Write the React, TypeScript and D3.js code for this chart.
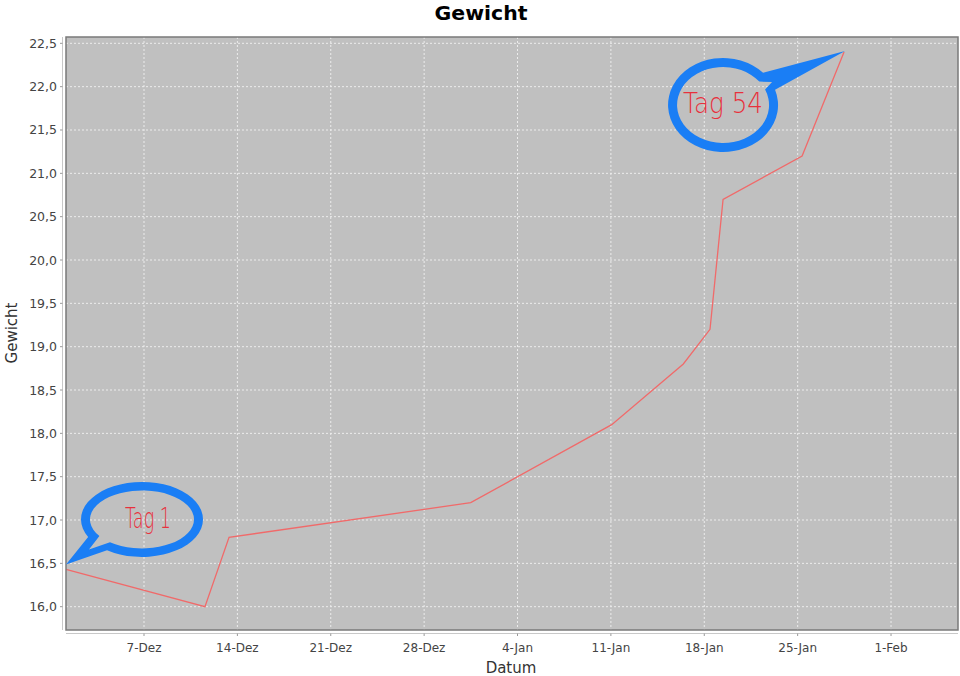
import React from "react";
import * as d3 from "d3";

// ---- data ----
const dates = [
  "2012-12-01T03:40",
  "2012-12-11T13:40",
  "2012-12-13T09:00",
  "2012-12-31T11:50",
  "2013-01-11T01:30",
  "2013-01-16T10:20",
  "2013-01-18T10:20",
  "2013-01-19T09:50",
  "2013-01-25T08:00",
  "2013-01-28T11:30",
];
const weights = [16.43, 16.0, 16.8, 17.2, 18.1, 18.8, 19.2, 20.7, 21.2, 22.4];

const xTickDates = [
  "2012-12-07",
  "2012-12-14",
  "2012-12-21",
  "2012-12-28",
  "2013-01-04",
  "2013-01-11",
  "2013-01-18",
  "2013-01-25",
  "2013-02-01",
];
const monthNames = ["Jan", "Feb", "Mär", "Apr", "Mai", "Jun", "Jul", "Aug", "Sep", "Okt", "Nov", "Dez"];
const yTicks = [16.0, 16.5, 17.0, 17.5, 18.0, 18.5, 19.0, 19.5, 20.0, 20.5, 21.0, 21.5, 22.0, 22.5];
const xDomain = ["2012-12-01T03:40", "2013-02-06T00:30"];
const yDomain = [15.731, 22.573];
const annotationLabels = ["Tag 1", "Tag 54"];

const title = "Gewicht";
const xLabel = "Datum";
const yLabel = "Gewicht";

// ---- layout ----
const W = 960;
const H = 676;
const L = 66, R = 958, T = 37, B = 630;

const parseT = d3.timeParse("%Y-%m-%dT%H:%M");
const parseD = d3.timeParse("%Y-%m-%d");

const BLUE = "#1a7ef5";
const RED = "#e8303c";

function bubblePath(
  cx: number, cy: number,
  Rx: number, Ry: number, a1: number, a2: number, tip: [number, number],
  rx: number, ry: number, b1: number, b2: number, tip2: [number, number]
) {
  const rad = (a: number) => (a * Math.PI) / 180;
  const pt = (ex: number, ey: number, a: number) =>
    [cx + ex * Math.cos(rad(a)), cy + ey * Math.sin(rad(a))] as [number, number];
  const o1 = pt(Rx, Ry, a1), o2 = pt(Rx, Ry, a2);
  const i1 = pt(rx, ry, b1), i2 = pt(rx, ry, b2);
  return (
    `M${o1[0]},${o1[1]} A${Rx},${Ry} 0 1 1 ${o2[0]},${o2[1]} L${tip[0]},${tip[1]} Z ` +
    `M${i1[0]},${i1[1]} A${rx},${ry} 0 1 1 ${i2[0]},${i2[1]} L${tip2[0]},${tip2[1]} Z`
  );
}

export default function App() {
  const pts = dates.map((d, i) => ({ t: parseT(d) as Date, v: weights[i] }));
  const x = d3.scaleTime().domain(xDomain.map((d) => parseT(d) as Date)).range([L, R]);
  const y = d3.scaleLinear().domain(yDomain).range([B, T]);
  const line = d3.line<{ t: Date; v: number }>().x((d) => x(d.t)).y((d) => y(d.v));
  const xt = xTickDates.map((d) => parseD(d) as Date);
  const fmtX = (d: Date) => `${d.getDate()}-${monthNames[d.getMonth()]}`;
  const fmtY = (v: number) => v.toFixed(1).replace(".", ",");

  const first = pts[0];
  const last = pts[pts.length - 1];
  const t1: [number, number] = [x(first.t), y(first.v) - 5];
  const t2: [number, number] = [x(last.t) + 1, y(last.v) - 1];

  const c1x = t1[0] + 76, c1y = t1[1] - 45;
  const b1 = bubblePath(c1x, c1y, 61, 37.5, 152, 125 + 360, t1, 52, 29, 145, 128 + 360, [t1[0] + 23, t1[1] - 15]);
  const c2x = t2[0] - 122, c2y = t2[1] + 54;
  const b2 = bubblePath(c2x, c2y, 55, 47, -19, 316.7, t2, 46, 38, -24, 322, [t2[0] - 73, t2[1] + 31]);

  const font = "'DejaVu Sans', Verdana, sans-serif";
  const hand = "'DejaVu Sans', sans-serif";

  return (
    <svg width={W} height={H} style={{ position: "absolute", left: 0, top: 0, background: "#fff" }}>
      <rect x={0} y={0} width={W} height={H} fill="#fff" />
      <text x={481} y={20} textAnchor="middle" fontFamily={font} fontWeight="bold" fontSize={19} textLength={93} lengthAdjust="spacingAndGlyphs" fill="#000">
        {title}
      </text>
      <rect x={L} y={T} width={R - L} height={B - T} fill="#c0c0c0" />
      {xt.map((d, i) => (
        <line key={"gx" + i} x1={x(d)} x2={x(d)} y1={T} y2={B} stroke="#ececec" strokeWidth={1} strokeDasharray="2,2" />
      ))}
      {yTicks.map((v, i) => (
        <line key={"gy" + i} x1={L} x2={R} y1={y(v)} y2={y(v)} stroke="#ececec" strokeWidth={1} strokeDasharray="2,2" />
      ))}
      <path d={line(pts) || ""} fill="none" stroke="#f06a6a" strokeWidth={1.3} />
      <rect x={L} y={T} width={R - L} height={B - T} fill="none" stroke="#7a7a7a" strokeWidth={1.5} />
      <line x1={62.5} x2={62.5} y1={T} y2={B} stroke="#c8c8c8" strokeWidth={1} />
      {yTicks.map((v, i) => (
        <g key={"yt" + i}>
          <line x1={60} x2={62.5} y1={y(v)} y2={y(v)} stroke="#999" />
          <text x={57} y={y(v) + 4.5} textAnchor="end" fontFamily={font} fontSize={12.5} fill="#444">
            {fmtY(v)}
          </text>
        </g>
      ))}
      <line x1={L} x2={R} y1={633.5} y2={633.5} stroke="#c8c8c8" strokeWidth={1} />
      {xt.map((d, i) => (
        <g key={"xt" + i}>
          <line x1={x(d)} x2={x(d)} y1={633.5} y2={636} stroke="#999" />
          <text x={x(d)} y={651.5} textAnchor="middle" fontFamily={font} fontSize={12} fill="#444">
            {fmtX(d)}
          </text>
        </g>
      ))}
      <text x={511} y={673} textAnchor="middle" fontFamily={font} fontSize={15} fill="#333">
        {xLabel}
      </text>
      <text transform="translate(17,333) rotate(-90)" textAnchor="middle" fontFamily={font} fontSize={15} fill="#333">
        {yLabel}
      </text>
      <path d={b1} fill={BLUE} fillRule="evenodd" />
      <text x={148} y={528} textAnchor="middle" fontFamily={hand} fontWeight={200} fontSize={29} fill={RED} textLength={46} lengthAdjust="spacingAndGlyphs">
        {annotationLabels[0]}
      </text>
      <path d={b2} fill={BLUE} fillRule="evenodd" />
      <text x={723} y={113} textAnchor="middle" fontFamily={hand} fontWeight={200} fontSize={29} fill={RED} textLength={80} lengthAdjust="spacingAndGlyphs">
        {annotationLabels[1]}
      </text>
    </svg>
  );
}
